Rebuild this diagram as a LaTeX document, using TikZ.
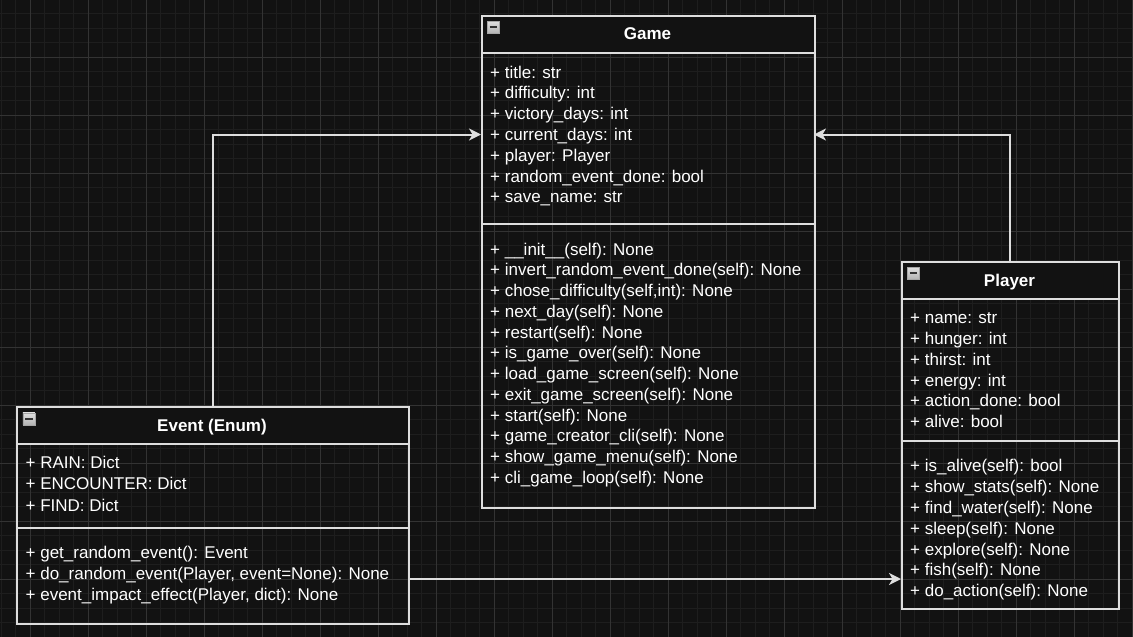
\documentclass[tikz,border=0pt]{standalone}
\usepackage{fontspec}
\setmainfont{Liberation Sans}
\usetikzlibrary{arrows.meta}
\definecolor{bgcol}{HTML}{121212}
\definecolor{minorcol}{HTML}{1E1E1E}
\definecolor{majorcol}{HTML}{333333}
\definecolor{linecol}{HTML}{DEDEDE}
\begin{document}
\begin{tikzpicture}[x=1pt, y=-1pt,
  part/.style={draw=linecol, line width=1.5pt, inner sep=0pt, anchor=north west},
  headpart/.style={part, fill=bgcol},
  member/.style={anchor=base west, inner sep=0pt, text=white, font=\fontsize{17}{20}\selectfont},
  classname/.style={anchor=base, inner sep=0pt, text=white, font=\fontsize{17}{20}\selectfont\bfseries},
  foldicon/.style={anchor=north west, draw=gray!70, line width=0.6pt, minimum size=12pt, inner sep=0pt,
    top color=gray!25, bottom color=gray!60},
  minusbar/.style={draw=black!80, line width=2pt},
  conn/.style={draw=linecol, line width=2pt, -{Stealth[length=12pt, width=12pt, inset=3.5pt]}}]

% background and grid
\fill[bgcol] (0,0) rectangle (1133,637);
\useasboundingbox (0,0) rectangle (1133,637);
\foreach \gx in {0,...,78} \draw[minorcol, line width=1pt] ({1.3+14.5*\gx},0) -- ({1.3+14.5*\gx},637);
\foreach \gy in {0,...,43} \draw[minorcol, line width=1pt] (0,{13.8+14.5*\gy}) -- (1133,{13.8+14.5*\gy});
\foreach \gx in {0,...,19} \draw[majorcol, line width=1pt] ({30.3+58*\gx},0) -- ({30.3+58*\gx},637);
\foreach \gy in {0,...,10} \draw[majorcol, line width=1pt] (0,{57.3+58*\gy}) -- (1133,{57.3+58*\gy});

% Game
\node[headpart, minimum width=333pt, minimum height=37pt] (gamehead) at (481,15) {};
\node[part, minimum width=333pt, minimum height=171pt] (gameattr) at (481,52) {};
\node[part, minimum width=333pt, minimum height=284pt] (gameops) at (481,223) {};
\node[foldicon] (gameicon) at (487,21) {};
\draw[minusbar] ([xshift=2.5pt]gameicon.west) -- ([xshift=-2.5pt]gameicon.east);
\node[classname] (gamename) at (647.5,39.5) {Game};
\node[member] (ga1) at (490,78) {+ title: str};
\node[member] (ga2) at (490,98.8) {+ difficulty: int};
\node[member] (ga3) at (490,119.6) {+ victory\_days: int};
\node[member] (ga4) at (490,140.4) {+ current\_days: int};
\node[member] (ga5) at (490,161.2) {+ player: Player};
\node[member] (ga6) at (490,182) {+ random\_event\_done: bool};
\node[member] (ga7) at (490,202.8) {+ save\_name: str};
\node[member] (go1) at (490,255) {+ \_\_init\_\_(self): None};
\node[member] (go2) at (490,275.75) {+ invert\_random\_event\_done(self): None};
\node[member] (go3) at (490,296.5) {+ chose\_difficulty(self,int): None};
\node[member] (go4) at (490,317.25) {+ next\_day(self): None};
\node[member] (go5) at (490,338) {+ restart(self): None};
\node[member] (go6) at (490,358.75) {+ is\_game\_over(self): None};
\node[member] (go7) at (490,379.5) {+ load\_game\_screen(self): None};
\node[member] (go8) at (490,400.25) {+ exit\_game\_screen(self): None};
\node[member] (go9) at (490,421) {+ start(self): None};
\node[member] (go10) at (490,441.75) {+ game\_creator\_cli(self): None};
\node[member] (go11) at (490,462.5) {+ show\_game\_menu(self): None};
\node[member] (go12) at (490,483.25) {+ cli\_game\_loop(self): None};

% Player
\node[headpart, minimum width=217pt, minimum height=37pt] (playerhead) at (901,261) {};
\node[part, minimum width=217pt, minimum height=142pt] (playerattr) at (901,298) {};
\node[part, minimum width=217pt, minimum height=168pt] (playerops) at (901,440) {};
\node[foldicon] (playericon) at (907,267) {};
\draw[minusbar] ([xshift=2.5pt]playericon.west) -- ([xshift=-2.5pt]playericon.east);
\node[classname] (playername) at (1009.5,286.5) {Player};
\node[member] (pa1) at (910,323.3) {+ name: str};
\node[member] (pa2) at (910,344.2) {+ hunger: int};
\node[member] (pa3) at (910,365.1) {+ thirst: int};
\node[member] (pa4) at (910,386) {+ energy: int};
\node[member] (pa5) at (910,406.9) {+ action\_done: bool};
\node[member] (pa6) at (910,427.8) {+ alive: bool};
\node[member] (po1) at (910,471.7) {+ is\_alive(self): bool};
\node[member] (po2) at (910,492.5) {+ show\_stats(self): None};
\node[member] (po3) at (910,513.4) {+ find\_water(self): None};
\node[member] (po4) at (910,534.2) {+ sleep(self): None};
\node[member] (po5) at (910,555) {+ explore(self): None};
\node[member] (po6) at (910,575.9) {+ fish(self): None};
\node[member] (po7) at (910,596.7) {+ do\_action(self): None};

% Event (Enum)
\node[headpart, minimum width=392pt, minimum height=37pt] (eventhead) at (16,406) {};
\node[part, minimum width=392pt, minimum height=84pt] (eventattr) at (16,443) {};
\node[part, minimum width=392pt, minimum height=96pt] (eventops) at (16,527) {};
\node[foldicon] (eventicon) at (22.5,412.5) {};
\draw[minusbar] ([xshift=2.5pt]eventicon.west) -- ([xshift=-2.5pt]eventicon.east);
\node[classname] (eventname) at (212,431.5) {Event (Enum)};
\node[member] (ea1) at (25.5,468) {+ RAIN: Dict};
\node[member] (ea2) at (25.5,489.5) {+ ENCOUNTER: Dict};
\node[member] (ea3) at (25.5,511) {+ FIND: Dict};
\node[member] (eo1) at (25.5,558.3) {+ get\_random\_event(): Event};
\node[member] (eo2) at (25.5,579.5) {+ do\_random\_event(Player, event=None): None};
\node[member] (eo3) at (25.5,600.7) {+ event\_impact\_effect(Player, dict): None};

% connectors
\coordinate (gamein) at (481,134.5);
\coordinate (gameout) at (814,134.5);
\coordinate (playerin) at (901,579);
\draw[conn] (eventhead.north) |- (gamein);
\draw[conn] (playerhead.north) |- (gameout);
\draw[conn] (eventops.east |- playerin) -- (playerin);
\end{tikzpicture}
\end{document}
